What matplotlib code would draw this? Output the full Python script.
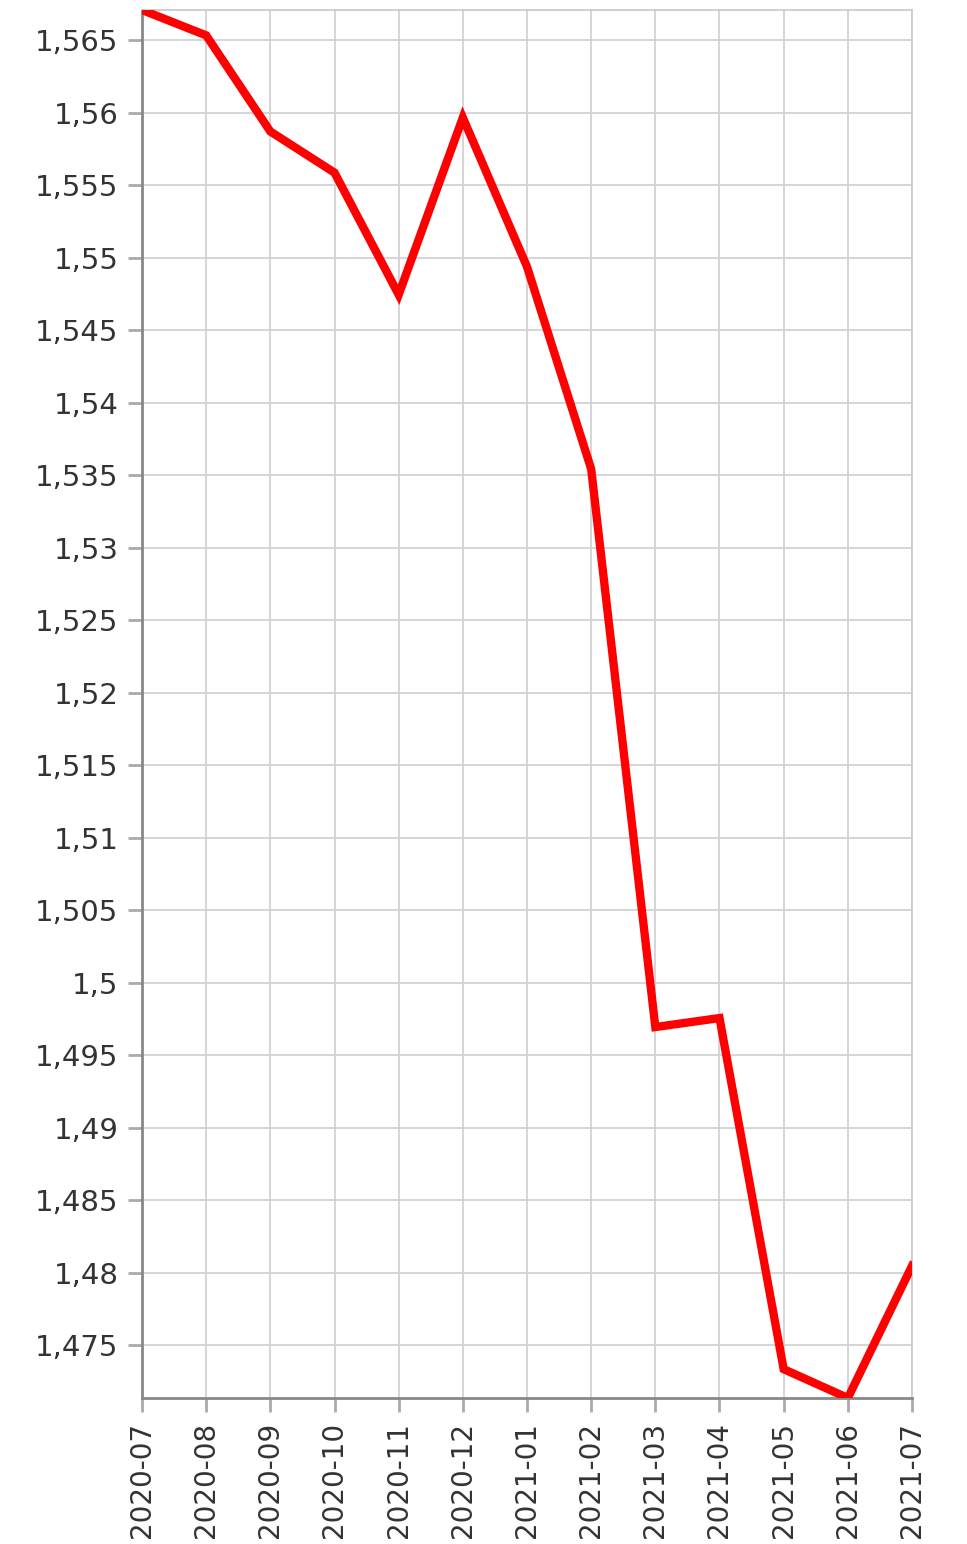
import matplotlib.pyplot as plt
from matplotlib.ticker import FuncFormatter, MultipleLocator

# monthly values
months = ['2020-07', '2020-08', '2020-09', '2020-10', '2020-11', '2020-12',
          '2021-01', '2021-02', '2021-03', '2021-04', '2021-05', '2021-06', '2021-07']
values = [1.5671, 1.56535, 1.55872, 1.55588, 1.54746, 1.55968,
          1.54939, 1.53544, 1.49694, 1.49756, 1.47334, 1.47135, 1.48046]

fig = plt.figure(figsize=(9.67, 15.44), dpi=100)
ax = fig.add_axes([142 / 967, 1 - 1398 / 1544, 770 / 967, 1388 / 1544])

x = list(range(len(months)))
ax.plot(x, values, color='#ff0000', linewidth=6, solid_joinstyle='miter', zorder=3)

ax.set_xlim(0, len(months) - 1)
ax.set_ylim(min(values), max(values))
ax.set_xticks(x)
ax.set_xticklabels(months, rotation=90)
ax.yaxis.set_major_locator(MultipleLocator(0.005))
ax.yaxis.set_major_formatter(FuncFormatter(lambda v, p: f'{v:.3f}'.rstrip('0').rstrip('.').replace('.', ',')))

ax.grid(True, color='#d2d2d2', linewidth=1.3)
ax.set_axisbelow(True)
for side in ['left', 'bottom']:
    ax.spines[side].set_color('#888888')
    ax.spines[side].set_linewidth(2)
for side in ['top', 'right']:
    ax.spines[side].set_color('#cccccc')
    ax.spines[side].set_linewidth(1.3)

ax.tick_params(axis='both', length=10, width=2, color='#aaaaaa',
               labelcolor='#333333', pad=7)
ax.tick_params(axis='y', labelsize=21)
ax.tick_params(axis='x', labelsize=20)

fig.savefig('out.png', dpi=100)
